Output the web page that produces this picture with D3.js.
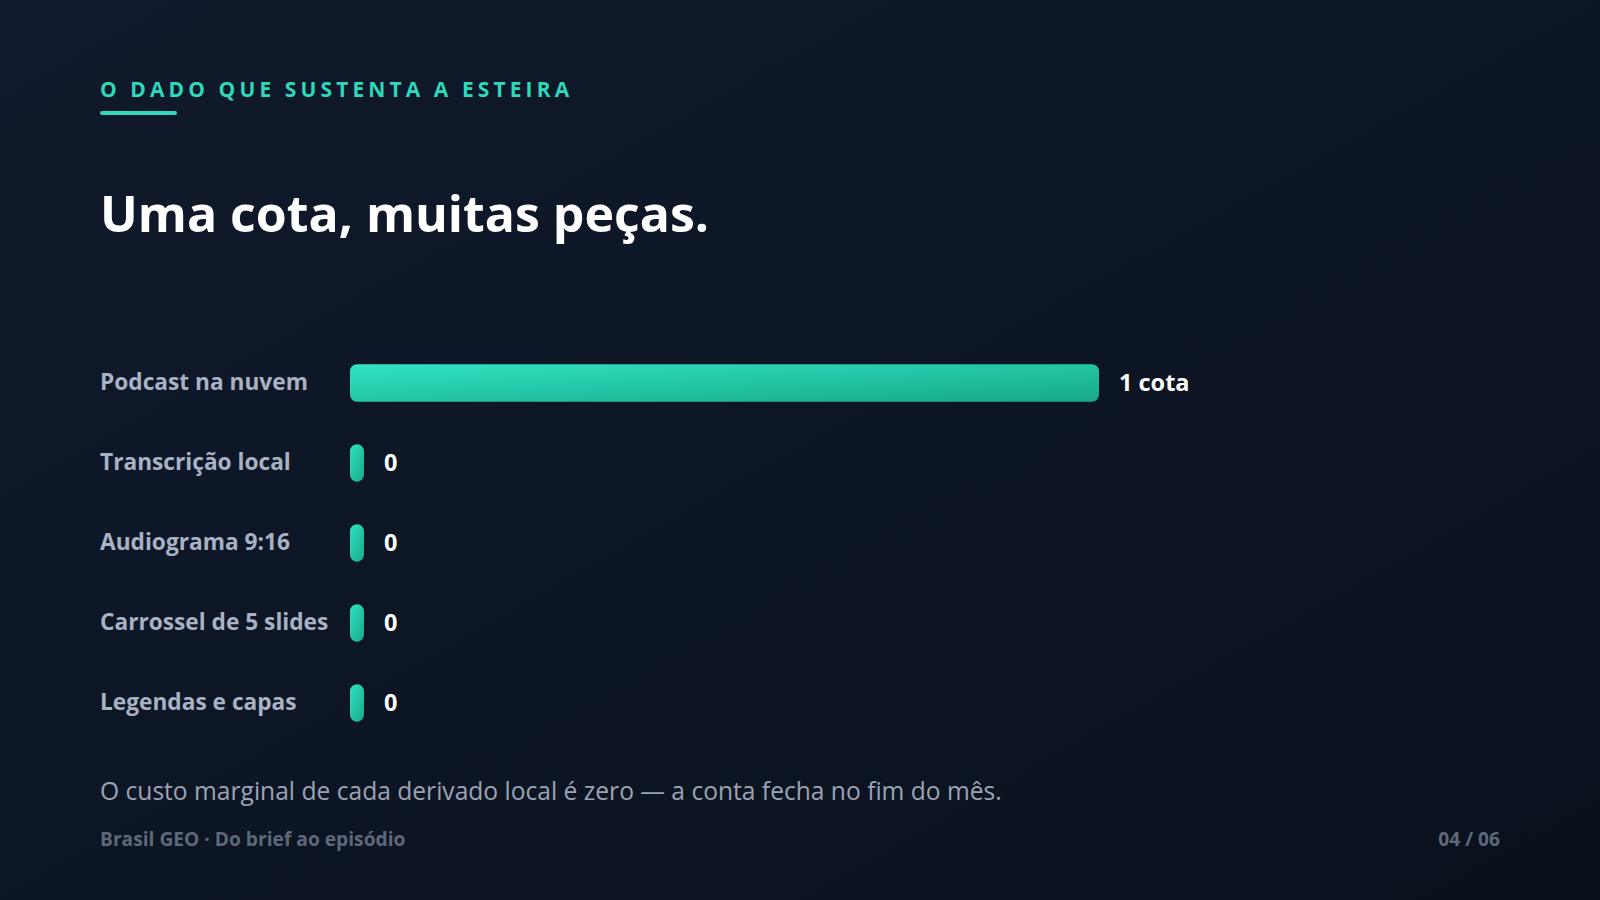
<!DOCTYPE html>
<html><head><meta charset="utf-8">
<script src="https://cdn.jsdelivr.net/npm/d3@7"></script>
<style>body{margin:0;background:#0c1422;overflow:hidden}</style>
</head><body>
<script>
// Data
const categories = ["Podcast na nuvem", "Transcrição local", "Audiograma 9:16", "Carrossel de 5 slides", "Legendas e capas"];
const values = [1, 0, 0, 0, 0];
const valueLabels = ["1 cota", "0", "0", "0", "0"];

const W = 1600, H = 900, font = "'Open Sans', 'Noto Sans', sans-serif";
const svg = d3.select("body").append("svg").attr("width", W).attr("height", H);

const defs = svg.append("defs");
const bg = defs.append("linearGradient").attr("id", "bg").attr("x1", 0).attr("y1", 0).attr("x2", 1).attr("y2", 1);
bg.append("stop").attr("offset", 0).attr("stop-color", "#101a2c");
bg.append("stop").attr("offset", 1).attr("stop-color", "#0a111d");
const bar = defs.append("linearGradient").attr("id", "bar").attr("x1", 0).attr("y1", 0).attr("x2", 1).attr("y2", 1);
bar.append("stop").attr("offset", 0).attr("stop-color", "#30e3c4");
bar.append("stop").attr("offset", 1).attr("stop-color", "#17a886");

svg.append("rect").attr("width", W).attr("height", H).attr("fill", "url(#bg)");

// Header
svg.append("text").attr("x", 100).attr("y", 97).attr("fill", "#2ed8bb")
  .attr("font-family", font).attr("font-weight", 700).attr("font-size", 21)
  .attr("letter-spacing", 4.1).text("O DADO QUE SUSTENTA A ESTEIRA");
svg.append("rect").attr("x", 100).attr("y", 111).attr("width", 77).attr("height", 4).attr("rx", 2).attr("fill", "#2ed8bb");
svg.append("text").attr("x", 100).attr("y", 232).attr("fill", "#ffffff")
  .attr("font-family", font).attr("font-weight", 700).attr("font-size", 50)
  .text("Uma cota, muitas peças.");

// Scales
const x = d3.scaleLinear().domain([0, 1]).range([0, 749]);
const y = d3.scaleBand().domain(categories).range([343, 743]).paddingInner(0.53).paddingOuter(0.265);
const x0 = 350, minW = 14;

const rows = svg.append("g").selectAll("g").data(categories).join("g")
  .attr("transform", c => `translate(0,${y(c)})`);

rows.append("text").attr("x", 100).attr("y", y.bandwidth() / 2).attr("dy", "0.33em")
  .attr("fill", "#a8b2c4").attr("font-family", font).attr("font-weight", 700).attr("font-size", 22.7)
  .text(c => c);
rows.append("rect").attr("x", x0).attr("y", 0)
  .attr("width", (c, i) => Math.max(minW, x(values[i])))
  .attr("height", y.bandwidth()).attr("rx", 7).attr("fill", "url(#bar)");
rows.append("text").attr("x", (c, i) => x0 + Math.max(minW, x(values[i])) + 20)
  .attr("y", y.bandwidth() / 2).attr("dy", "0.33em")
  .attr("fill", "#ffffff").attr("font-family", font).attr("font-weight", 700).attr("font-size", 23.5)
  .text((c, i) => valueLabels[i]);

// Footnote and footer
svg.append("text").attr("x", 100).attr("y", 800).attr("fill", "#9aa4b4")
  .attr("font-family", font).attr("font-size", 24.6)
  .text("O custo marginal de cada derivado local é zero — a conta fecha no fim do mês.");
svg.append("text").attr("x", 100).attr("y", 846).attr("fill", "#5d697b")
  .attr("font-family", font).attr("font-weight", 700).attr("font-size", 19.2)
  .text("Brasil GEO · Do brief ao episódio");
svg.append("text").attr("x", 1500).attr("y", 846).attr("text-anchor", "end").attr("fill", "#5d697b")
  .attr("font-family", font).attr("font-weight", 700).attr("font-size", 19.2)
  .text("04 / 06");
</script>
</body></html>
